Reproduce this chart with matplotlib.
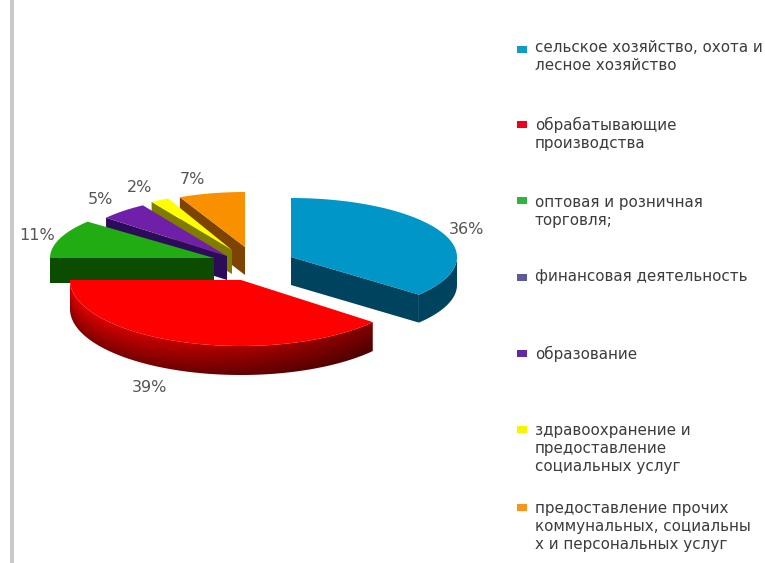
import numpy as np
import matplotlib
matplotlib.use('Agg')
import matplotlib.pyplot as plt
from matplotlib.patches import Rectangle, Polygon

# данные
labels = ['сельское хозяйство, охота и\nлесное хозяйство',
          'обрабатывающие\nпроизводства',
          'оптовая и розничная\nторговля;',
          'финансовая деятельность',
          'образование',
          'здравоохранение и\nпредоставление\nсоциальных услуг',
          'предоставление прочих\nкоммунальных, социальны\nх и персональных услуг']
values = [36, 39, 11, 0, 5, 2, 7]
legend_colors = ['#0f9cc6', '#f0001c', '#2fb53a', '#5b5a9c', '#6428a4', '#f8f400', '#f8931c']
top_colors = ['#0096c8', '#ff0000', '#22ac14', '#5b5a9c', '#7020a8', '#ffff00', '#f89000']
side_colors = ['#00435f', '#a80000', '#0c4c00', '#2c2c50', '#2c0c58', '#807c00', '#7c4400']

# центр, полуоси и толщина каждого сектора (пиксели)
centers = [(291, 257), (241, 280), (214, 258), (0, 0), (227, 256), (232, 250), (245, 247)]
radii = [(166, 59), (171, 66), (164, 57), (1, 1), (157, 60), (150, 57), (153, 55)]
depths = [28, 29, 25, 0, 24, 24, 28]
label_xy = [(467, 229), (150, 388), (37, 235), None, (100, 200), (140, 187), (192, 179)]
legend_y = [57, 134, 211, 277, 354, 449, 526]
legend_key_y = [49, 124, 200, 277, 353, 429, 507]

fig = plt.figure(figsize=(7.65, 5.63), dpi=100)
ax = fig.add_axes([0, 0, 1, 1])
ax.set_xlim(0, 765)
ax.set_ylim(563, 0)
ax.axis('off')

# серая линия слева
ax.add_patch(Rectangle((10, 0), 4, 563, color='#c9c9c9', lw=0))


def pt(c, r, a, dy=0):
    a = np.radians(a)
    return c[0] + r[0] * np.sin(a), c[1] - r[1] * np.cos(a) + dy


def red_rim(i, lo, hi, poly):
    # градиент обода красного сектора, обрезанный по контуру
    c, r, d = centers[i], radii[i], depths[i]
    x0, x1 = c[0] - r[0], c[0] + r[0]
    y0, y1 = c[1], c[1] + r[1] + d
    xx, yy = np.meshgrid(np.linspace(x0, x1, 400), np.linspace(y0, y1, 200))
    u = np.clip((xx - c[0]) / r[0], -1, 1)
    ytop = c[1] + r[1] * np.sqrt(1 - u ** 2)
    t = np.clip((yy - ytop) / d, 0, 1)
    s = (xx - x0) / (x1 - x0)
    k = (1.0 - 0.42 * t) * (0.88 - 0.42 * s)
    img = np.zeros(xx.shape + (3,))
    img[..., 0] = np.clip(k, 0, 1)
    im = ax.imshow(img, extent=(x0, x1, y1, y0), aspect='auto', interpolation='bilinear', zorder=2)
    patch = Polygon(poly, transform=ax.transData, fill=False, lw=0)
    ax.add_patch(patch)
    im.set_clip_path(patch)
    ax.set_xlim(0, 765)
    ax.set_ylim(563, 0)


def draw_slice(i, a1, a2):
    c, r, d = centers[i], radii[i], depths[i]
    # боковые грани
    if np.sin(np.radians(a1)) < -1e-6:
        x0, y0 = pt(c, r, a1)
        ax.fill([c[0], x0, x0, c[0]], [c[1], y0, y0 + d, c[1] + d], color=side_colors[i], lw=0, zorder=2)
    if np.sin(np.radians(a2)) > 1e-6:
        x0, y0 = pt(c, r, a2)
        ax.fill([c[0], x0, x0, c[0]], [c[1], y0, y0 + d, c[1] + d], color=side_colors[i], lw=0, zorder=2)
    # обод
    lo, hi = max(a1, 90), min(a2, 270)
    if hi > lo:
        ang = np.linspace(lo, hi, 120)
        xs, ys = pt(c, r, ang)
        poly = np.c_[np.r_[xs, xs[::-1]], np.r_[ys, ys[::-1] + d]]
        if i == 1:
            red_rim(i, lo, hi, poly)
        else:
            ax.fill(poly[:, 0], poly[:, 1], color=side_colors[i], lw=0, zorder=2)
    # верх
    ang = np.linspace(a1, a2, 80)
    xs, ys = pt(c, r, ang)
    ax.fill(np.r_[c[0], xs], np.r_[c[1], ys], color=top_colors[i], lw=0, zorder=2)


starts = np.r_[0, np.cumsum(values)[:-1]] * 3.6
ends = np.cumsum(values) * 3.6
for i in [6, 5, 4, 2, 0, 1]:
    draw_slice(i, starts[i], ends[i])
    ax.text(label_xy[i][0], label_xy[i][1], f'{values[i]}%', fontsize=11.5, color='#555555',
            ha='center', va='center')

# легенда
for i, lab in enumerate(labels):
    ax.add_patch(Rectangle((517, legend_key_y[i] - 3.5), 10, 7, color=legend_colors[i], lw=0))
    ax.text(535, legend_y[i], lab, fontsize=10.9, color='#3c3c3c', ha='left', va='center', linespacing=1.25)

fig.savefig('out.png', dpi=100)
